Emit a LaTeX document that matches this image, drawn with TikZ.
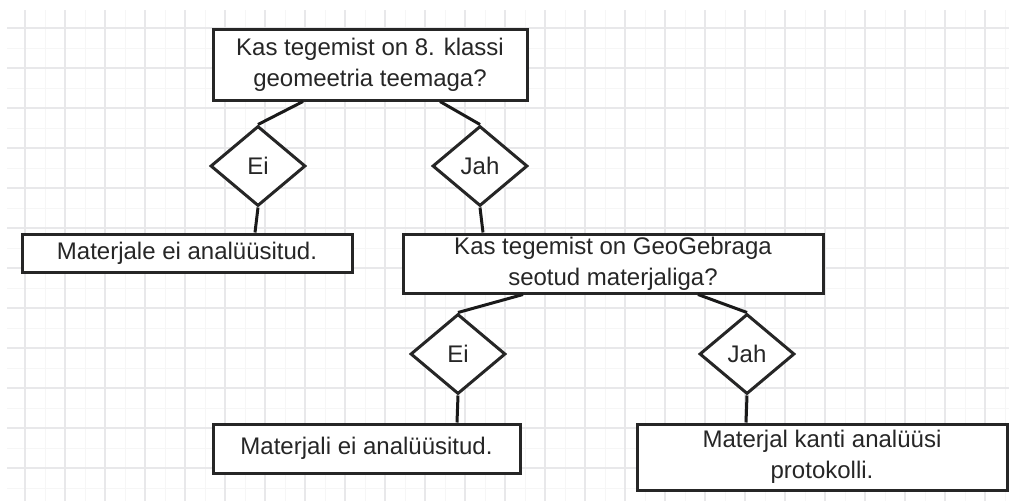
\documentclass[tikz,border=0pt]{standalone}
\usepackage{fontspec}
\setmainfont{Liberation Sans}
\usetikzlibrary{shapes.geometric}

\begin{document}
\begin{tikzpicture}[x=1pt, y=-1pt,
        every node/.style={font=\fontsize{24}{31}\selectfont, text=black!85},
        box/.style={draw=black!85, line width=3pt, fill=white, align=center, inner sep=0pt},
        choice/.style={draw=black!85, line width=3pt, fill=white, diamond, inner sep=0pt, minimum width=95pt, minimum height=80pt},
        link/.style={draw=black!90, line width=3pt}]
            \useasboundingbox (0, 0) rectangle (1009, 501);
            \begin{scope}
                \clip (7, 10) rectangle (1009, 501);
                \foreach \x in {5, 45, ..., 1005} \draw[blue!4!gray!7, line width=1pt] (\x, 10) -- (\x, 501);
                \foreach \y in {8, 48, ..., 500} \draw[blue!4!gray!7, line width=1pt] (7, \y) -- (1009, \y);
                \foreach \x in {25, 65, ..., 1005} \draw[blue!5!gray!17, line width=1.3pt] (\x, 10) -- (\x, 501);
                \foreach \y in {28, 68, ..., 500} \draw[blue!5!gray!17, line width=1.3pt] (7, \y) -- (1009, \y);
            \end{scope}

            \node[box, minimum width=314pt, minimum height=71pt] (q1) at (370, 64.5) {Kas tegemist on 8. klassi\\geomeetria teemaga?};
            \node[choice] (ei1) at (258, 166) {Ei};
            \node[choice] (jah1) at (480, 166) {Jah};
            \node[box, minimum width=330pt, minimum height=38pt] (r1) at (187, 253) {Materjale ei analüüsitud.};
            \node[box, minimum width=420pt, minimum height=59pt] (q2) at (613, 263.5) {Kas tegemist on GeoGebraga\\seotud materjaliga?};
            \node[choice] (ei2) at (458, 354) {Ei};
            \node[choice] (jah2) at (747, 354) {Jah};
            \node[box, minimum width=307pt, minimum height=49pt] (r2) at (366.5, 448.5) {Materjali ei analüüsitud.};
            \node[box, minimum width=370pt, minimum height=66pt] (r3) at (822, 457) {Materjal kanti analüüsi\\protokolli.};

            \draw[link] ([xshift=-67pt]q1.south) -- (ei1.north);
            \draw[link] ([xshift=70pt]q1.south) -- (jah1.north);
            \draw[link] (ei1.south) -- ([xshift=68pt]r1.north);
            \draw[link] (jah1.south) -- ([xshift=-130pt]q2.north);
            \draw[link] ([xshift=-90pt]q2.south) -- (ei2.north);
            \draw[link] ([xshift=85pt]q2.south) -- (jah2.north);
            \draw[link] (ei2.south) -- ([xshift=90.5pt]r2.north);
            \draw[link] (jah2.south) -- ([xshift=-76pt]r3.north);
        \end{tikzpicture}
\end{document}
